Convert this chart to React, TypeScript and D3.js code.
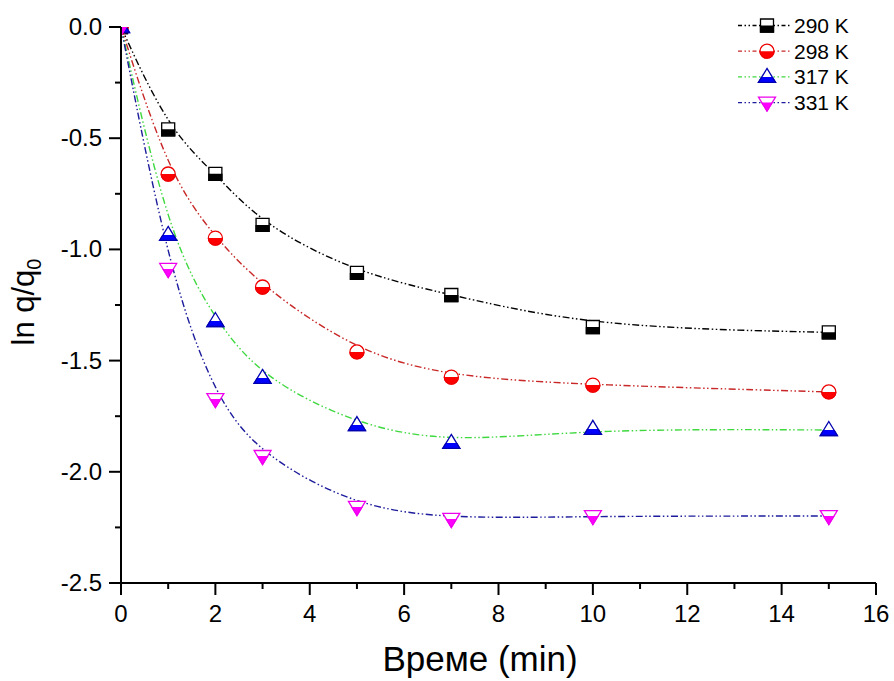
import React from "react";
import * as d3 from "d3";

const times = [0, 1, 2, 3, 5, 7, 10, 15];
const s290 = [0, -0.46, -0.66, -0.89, -1.106, -1.205, -1.349, -1.373];
const s298 = [0, -0.661, -0.949, -1.169, -1.461, -1.574, -1.61, -1.641];
const s317 = [0, -0.935, -1.322, -1.578, -1.79, -1.87, -1.807, -1.812];
const s331 = [0, -1.088, -1.673, -1.929, -2.158, -2.212, -2.199, -2.199];
const seriesLabels = ["290 K", "298 K", "317 K", "331 K"];
const xTicks = [0, 2, 4, 6, 8, 10, 12, 14, 16];
const xMinor = [1, 3, 5, 7, 9, 11, 13, 15];
const yTicks = [0, -0.5, -1.0, -1.5, -2.0, -2.5];
const yMinor = [-0.25, -0.75, -1.25, -1.75, -2.25];

const W = 894;
const H = 681;
const left = 121, right = 876, top = 27, bottom = 583;

const FONT = "'Liberation Sans', Arial, Helvetica, sans-serif";

type Style = { line: string; stroke: string; fill: string; shape: string };
const styles: Style[] = [
  { line: "#000000", stroke: "#000000", fill: "#000000", shape: "square" },
  { line: "#c82828", stroke: "#ee0000", fill: "#ff0000", shape: "circle" },
  { line: "#3fd83f", stroke: "#0000b0", fill: "#0000ff", shape: "triUp" },
  { line: "#1c1c9c", stroke: "#ee00ee", fill: "#ff00ff", shape: "triDown" },
];

const shapePath = (shape: string): string => {
  switch (shape) {
    case "square":
      return "M-6.5,-6.5H6.5V6.5H-6.5Z";
    case "circle":
      return "M-7,0A7,7 0 1,0 7,0A7,7 0 1,0 -7,0Z";
    case "triUp":
      return "M0,-8.5L8.5,5.5L-8.5,5.5Z";
    default:
      return "M-8.5,-5.5L8.5,-5.5L0,8.5Z";
  }
};

const Marker = ({ x, y, st }: { x: number; y: number; st: Style }) => {
  const d = shapePath(st.shape);
  return (
    <g transform={`translate(${x},${y})`}>
      <path d={d} fill="#ffffff" stroke={st.stroke} strokeWidth={1.3} />
      <path d={d} fill={st.fill} stroke={st.stroke} strokeWidth={1.3} clipPath="url(#bottomHalf)" />
    </g>
  );
};

const fmt = (t: number) => t.toFixed(1).replace("\u2212", "-");

export default function App() {
  const x = d3.scaleLinear().domain([0, 16]).range([left, right]);
  const y = d3.scaleLinear().domain([-2.5, 0]).range([bottom, top]);
  const all = [s290, s298, s317, s331];
  const line = d3
    .line<number>()
    .x((_, i) => x(times[i]))
    .y((v) => y(v))
    .curve(d3.curveBasis);
  const dash = "7,2.5,1.5,2.5,1.5,2.5";

  return (
    <svg width={W} height={H} style={{ position: "absolute", left: 0, top: 0, background: "#fff" }}>
      <defs>
        <clipPath id="bottomHalf" clipPathUnits="userSpaceOnUse">
          <rect x={-20} y={0} width={40} height={20} />
        </clipPath>
        <clipPath id="plotArea">
          <rect x={left} y={top} width={right - left + 20} height={bottom - top} />
        </clipPath>
      </defs>
      <rect x={0} y={0} width={W} height={H} fill="#fff" />
      <g clipPath="url(#plotArea)">
        {all.map((s, k) => (
          <path key={"l" + k} d={line(s) || ""} fill="none" stroke={styles[k].line} strokeWidth={1.4} strokeDasharray={dash} />
        ))}
        {all.map((s, k) => (
          <g key={"m" + k}>
            {s.map((v, i) => (
              <Marker key={i} x={x(times[i])} y={y(v)} st={styles[k]} />
            ))}
          </g>
        ))}
      </g>
      {/* axes */}
      <g stroke="#000" strokeWidth={2}>
        <line x1={left} x2={right} y1={bottom} y2={bottom} />
        <line x1={left} x2={left} y1={top} y2={bottom} />
        {xTicks.map((t) => (
          <line key={"xt" + t} x1={x(t)} x2={x(t)} y1={bottom} y2={bottom + 12} />
        ))}
        {xMinor.map((t) => (
          <line key={"xm" + t} x1={x(t)} x2={x(t)} y1={bottom} y2={bottom + 6} />
        ))}
        {yTicks.map((t) => (
          <line key={"yt" + t} x1={left - 12} x2={left} y1={y(t)} y2={y(t)} />
        ))}
        {yMinor.map((t) => (
          <line key={"ym" + t} x1={left - 6} x2={left} y1={y(t)} y2={y(t)} />
        ))}
      </g>
      <g fontFamily={FONT} fontSize={24} fill="#000">
        {xTicks.map((t) => (
          <text key={"xl" + t} x={x(t)} y={622} textAnchor="middle">
            {t}
          </text>
        ))}
        {yTicks.map((t) => (
          <text key={"yl" + t} x={102} y={y(t) + 8} textAnchor="end">
            {fmt(t)}
          </text>
        ))}
      </g>
      <text x={480} y={671} textAnchor="middle" fontFamily={FONT} fontSize={35} fill="#000">
        Време (min)
      </text>
      <text transform="translate(34,302) rotate(-90)" textAnchor="middle" fontFamily={FONT} fontSize={31} fill="#000">
        ln q/q<tspan fontSize={20} dy={7}>0</tspan>
      </text>
      {/* legend */}
      <g>
        {seriesLabels.map((lab, k) => {
          const ly = 25.5 + k * 25.7;
          return (
            <g key={"lg" + k}>
              <line x1={738} x2={790} y1={ly} y2={ly} stroke={styles[k].line} strokeWidth={1.3} strokeDasharray="4,2.5,1.5,2.5,1.5,2.5" />
              <Marker x={767} y={ly} st={styles[k]} />
              <text x={794} y={ly + 7.5} fontFamily={FONT} fontSize={21} fill="#000">
                {lab}
              </text>
            </g>
          );
        })}
      </g>
    </svg>
  );
}
